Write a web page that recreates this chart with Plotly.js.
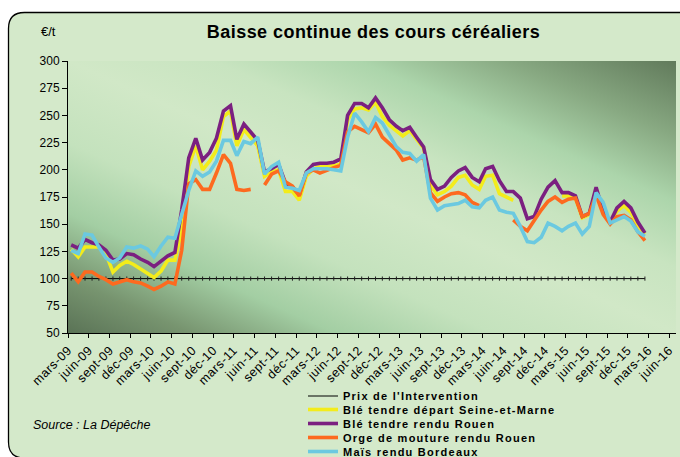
<!DOCTYPE html>
<html><head><meta charset="utf-8">
<script src="https://cdn.plot.ly/plotly-3.0.1.min.js"></script>
<style>
html,body{margin:0;padding:0;background:#fff;}
#chart{width:680px;height:457px;}
.legendtext,.legend2text,.legend3text,.legend4text,.legend5text{letter-spacing:1.25px;}
.gtitle{letter-spacing:0.45px;}
.xtick text{letter-spacing:0.5px;}
</style></head><body><div id="chart"></div>
<script>
// ---- data ----
const startYear = 2009, startMonth = 3, nMonths = 84; // mars-09 .. févr-16, monthly
const months = [];
for (let k = 0; k < nMonths; k++) {
  const m = startMonth - 1 + k;
  months.push(`${startYear + Math.floor(m / 12)}-${String((m % 12) + 1).padStart(2, '0')}-15`);
}
const tickLabels = ['mars-09','juin-09','sept-09','déc-09','mars-10','juin-10','sept-10','déc-10',
  'mars-11','juin-11','sept-11','déc-11','mars-12','juin-12','sept-12','déc-12','mars-13','juin-13',
  'sept-13','déc-13','mars-14','juin-14','sept-14','déc-14','mars-15','juin-15','sept-15','déc-15',
  'mars-16','juin-16'];
const tickDates = tickLabels.map((_, k) => {
  const m = startMonth - 1 + 3 * k;
  return `${startYear + Math.floor(m / 12)}-${String((m % 12) + 1).padStart(2, '0')}-01`;
});

const intervention = [100,100,100,100,100,100,100,100,100,100,100,100,100,100,100,100,100,100,100,100,
  100,100,100,100,100,100,100,100,100,100,100,100,100,100,100,100,100,100,100,100,
  100,100,100,100,100,100,100,100,100,100,100,100,100,100,100,100,100,100,100,100,
  100,100,100,100,100,100,100,100,100,100,100,100,100,100,100,100,100,100,100,100,
  100,100,100,100];
const bleSeineMarne = [127,120,129,129,129,123,106,112,116,113,
  109,105,101,107,117,117,145,203,222,200,
  208,218,249,254,222,237,229,222,194,198,
  200,180,180,172,194,201,203,203,204,205,
  246,256,257,255,262,249,241,236,231,236,
  228,220,186,177,180,185,193,195,186,182,
  194,195,178,175,172,null,null,null,null,null,
  null,176,176,174,156,159,182,162,152,162,
  167,161,149,141];
const bleRouen = [131,128,136,133,131,126,117,118,123,122,
  118,115,111,116,121,124,163,211,229,209,
  216,229,254,259,228,242,235,227,198,201,
  205,188,184,177,198,205,206,206,207,210,
  250,261,261,257,266,257,246,240,236,239,
  230,221,191,182,185,193,199,202,193,189,
  201,203,190,180,180,174,155,157,173,184,
  190,179,179,176,157,160,184,162,152,165,
  171,165,152,142];
const orgeRouen = [105,97,106,106,102,99,95,97,99,97,
  96,93,90,93,97,95,126,187,191,182,
  182,197,214,206,182,181,182,null,186,196,
  199,189,185,176,197,200,197,200,202,204,
  235,240,237,234,242,230,224,218,209,211,
  209,212,179,171,175,178,179,177,170,167,
  null,null,null,null,154,148,144,154,163,171,
  175,170,173,174,157,160,177,159,150,157,
  158,154,143,135];
const maisBordeaux = [126,123,141,140,129,119,115,119,129,128,
  130,127,120,130,138,137,159,181,199,194,
  198,208,227,227,213,226,224,230,196,203,
  207,184,183,181,197,201,201,201,200,199,
  230,252,244,235,248,243,232,221,216,215,
  208,214,174,163,167,168,169,172,166,165,
  172,175,163,161,160,148,134,133,138,151,
  148,144,148,151,141,148,179,170,151,154,
  157,153,143,139];
const seriesNames = ["Prix de l'Intervention", 'Blé tendre départ Seine-et-Marne',
  'Blé tendre rendu Rouen', 'Orge de mouture rendu Rouen', 'Maïs rendu Bordeaux'];
const yTicks = [50,75,100,125,150,175,200,225,250,275,300];

// ---- layout helpers ----
const W = 680, H = 457, M = {l: 68, r: 4, t: 61, b: 124};
const PW = W - M.l - M.r, PH = H - M.t - M.b;
const px = x => (x - M.l) / PW;
const py = y => (H - M.b - y) / PH;
const P = (x, y) => `${px(x).toFixed(5)},${py(y).toFixed(5)}`;
const FONT = 'Liberation Sans, Arial, sans-serif';

const colors = ['#000000', '#f3ec1b', '#7b2080', '#fd6a1f', '#6bc9e0'];
const ys = [intervention, bleSeineMarne, bleRouen, orgeRouen, maisBordeaux];
const legendIds = ['legend', 'legend2', 'legend3', 'legend4', 'legend5'];

const traces = [];
ys.forEach((y, k) => {
  traces.push({
    x: months, y: y, type: 'scatter', mode: 'lines', name: seriesNames[k],
    line: {color: colors[k], width: k === 0 ? 1 : 3.6},
    connectgaps: false, legend: legendIds[k], hoverinfo: 'skip'
  });
  if (k === 0) {
    traces.push({
      x: months, y: y, type: 'scatter', mode: 'markers', showlegend: false,
      marker: {symbol: 'line-ns', size: 3, line: {color: '#222', width: 1}}, hoverinfo: 'skip'
    });
  }
});

// plot-area gradient
const stops = [[0,'#5a7356'],[0.1,'#77946f'],[0.22,'#a3cea3'],[0.35,'#c4e2bd'],[0.5,'#d1e8c7'],
  [0.62,'#c8e4c0'],[0.74,'#acd5ab'],[0.86,'#88a982'],[1,'#617a5b']]
  .map(s => `<stop offset="${s[0]}" stop-color="${s[1]}"/>`).join('');
const gradSvg = `<svg xmlns="http://www.w3.org/2000/svg" width="100" height="100" viewBox="0 0 100 100" preserveAspectRatio="none"><defs><linearGradient id="g" x1="0" y1="1" x2="1" y2="0">${stops}</linearGradient></defs><rect width="100" height="100" fill="url(#g)"/></svg>`;

const r = 16, L = 8.5, T = 12.5, R = 720, B = 458;
const framePath = `M ${P(L + r, T)} L ${P(R, T)} L ${P(R, B)} L ${P(L + r, B)} Q ${P(L, B)} ${P(L, B - r)} L ${P(L, T + r)} Q ${P(L, T)} ${P(L + r, T)} Z`;

const legendRows = [396, 409.5, 423.5, 437.5, 451.5];
const layout = {
  width: W, height: H,
  margin: {l: M.l, r: M.r, t: M.t, b: M.b, autoexpand: false},
  paper_bgcolor: '#ffffff', plot_bgcolor: 'rgba(0,0,0,0)',
  font: {family: FONT, color: '#000'},
  title: {text: 'Baisse continue des cours céréaliers', x: 373.5 / W, xref: 'container', xanchor: 'center',
    y: 1 - 32 / H, yref: 'container', yanchor: 'middle',
    font: {family: FONT, size: 18, weight: 'bold', color: '#000'}},
  xaxis: {type: 'date', range: ['2009-03-01', '2016-07-01'], tickmode: 'array', tickvals: tickDates, ticktext: tickLabels,
    tickangle: -45, ticks: 'outside', ticklen: 4, tickcolor: '#000', showline: true, linecolor: '#000', linewidth: 1,
    showgrid: false, zeroline: false, tickfont: {family: FONT, size: 12.5, color: '#000'}},
  yaxis: {range: [50, 300], tickmode: 'array', tickvals: yTicks, ticks: 'outside', ticklen: 5, tickcolor: '#000',
    showline: true, linecolor: '#000', linewidth: 1, showgrid: false, zeroline: false,
    tickfont: {family: FONT, size: 12, color: '#000'}},
  shapes: [{type: 'path', xref: 'paper', yref: 'paper', path: framePath, layer: 'below',
    fillcolor: '#d4e9ca', line: {color: '#000', width: 1.3}}],
  images: [{source: 'data:image/svg+xml;charset=utf-8,' + encodeURIComponent(gradSvg),
    xref: 'x domain', yref: 'y domain', x: 0, y: 1, sizex: 1, sizey: 1, xanchor: 'left', yanchor: 'top',
    sizing: 'stretch', layer: 'below'}],
  annotations: [
    {text: '€/t', xref: 'paper', yref: 'paper', x: px(39), y: py(32), xanchor: 'left', yanchor: 'middle',
      showarrow: false, font: {family: FONT, size: 13, color: '#000'}},
    {text: '<i>Source : La Dépêche</i>', xref: 'paper', yref: 'paper', x: px(31), y: py(425), xanchor: 'left', yanchor: 'middle',
      showarrow: false, font: {family: FONT, size: 12.5, color: '#000'}}
  ],
  hovermode: false
};
legendIds.forEach((id, k) => {
  layout[id] = {x: px(303), y: py(legendRows[k]), xanchor: 'left', yanchor: 'middle',
    bgcolor: 'rgba(0,0,0,0)', borderwidth: 0,
    font: {family: FONT, size: 11, weight: 'bold', color: '#000'}};
});

Plotly.newPlot('chart', traces, layout, {staticPlot: true, displayModeBar: false});
</script></body></html>
